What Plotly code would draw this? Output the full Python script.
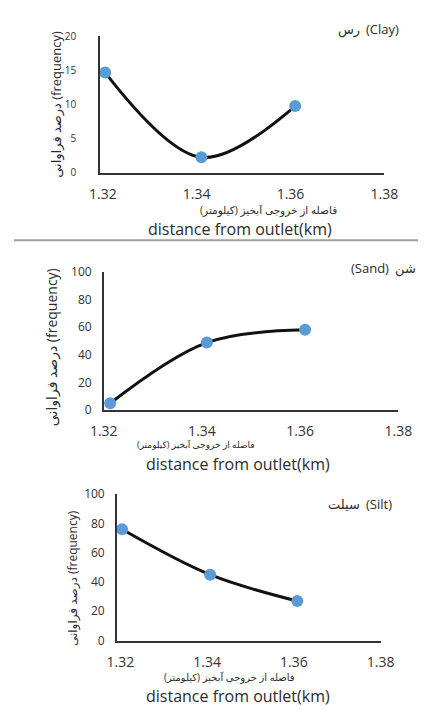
import plotly.graph_objects as go

# ---- data ----
clay_x = [1.3205, 1.341, 1.361]
clay_y = [14.7, 2.3, 9.8]
sand_x = [1.3213, 1.341, 1.361]
sand_y = [5, 48.8, 58]
silt_x = [1.3204, 1.3407, 1.3608]
silt_y = [76, 45, 27]
x_ticks = [1.32, 1.34, 1.36, 1.38]
x_tick_labels = ["1.32", "1.34", "1.36", "1.38"]
clay_ticks = [0, 5, 10, 15, 20]
pct_ticks = [0, 20, 40, 60, 80, 100]
title_en = ["(Clay)", "(Sand)", "(Silt)"]
title_fa = ["رس", "شن", "سیلت"]
ytitle = "\u202aدرصد فراوانی (frequency)\u202c"
xtitle_fa = "فاصله از خروجی آبخیز (کیلومتر)"
xtitle_en = "distance from outlet(km)"

W, H = 432, 713
FONT = "Open Sans, DejaVu Sans, sans-serif"
TXT = "#2b2b2b"
BLUE = "#5B9BD5"

def fx(px):
    return px / W

def fy(py):
    return 1 - py / H

fig = go.Figure()
series = [(clay_x, clay_y), (sand_x, sand_y), (silt_x, silt_y)]
for i, (xs, ys) in enumerate(series):
    sfx = "" if i == 0 else str(i + 1)
    fig.add_trace(go.Scatter(
        x=xs, y=ys, mode="lines+markers",
        line=dict(color="#111111", width=3, shape="spline", smoothing=1.0),
        marker=dict(color=BLUE, size=12, line=dict(width=0)),
        xaxis="x" + sfx, yaxis="y" + sfx, showlegend=False,
        hoverinfo="skip",
    ))

panels = [
    dict(xd=(92, 396), yd=(168, 28), xr=[1.3194, 1.38], yr=[0, 20], yt=clay_ticks, yfs=10, ysd=20, xsd=7),
    dict(xd=(96, 411), yd=(411, 269), xr=[1.32, 1.38], yr=[0, 100], yt=pct_ticks, yfs=12, ysd=8, xsd=7),
    dict(xd=(110, 392), yd=(647, 497), xr=[1.3192, 1.38], yr=[0, 100], yt=pct_ticks, yfs=12, ysd=8, xsd=8),
]

layout = dict(
    width=W, height=H, margin=dict(l=0, r=0, t=0, b=0),
    paper_bgcolor="white", plot_bgcolor="white",
    font=dict(family=FONT, color=TXT),
)
for i, p in enumerate(panels):
    sfx = "" if i == 0 else str(i + 1)
    layout["xaxis" + sfx] = dict(
        domain=[fx(p["xd"][0]), fx(p["xd"][1])], range=p["xr"],
        anchor="y" + sfx, tickvals=x_ticks, ticktext=x_tick_labels,
        showline=True, linecolor="#333", linewidth=1.5,
        showgrid=False, zeroline=False, ticks="",
        tickfont=dict(size=14, color="#333", family=FONT),
        ticklabelstandoff=p["xsd"],
    )
    layout["yaxis" + sfx] = dict(
        domain=[fy(p["yd"][0]), fy(p["yd"][1])], range=p["yr"],
        anchor="x" + sfx, tickvals=p["yt"],
        showline=True, linecolor="#333", linewidth=1.5,
        showgrid=False, zeroline=False, ticks="",
        tickfont=dict(size=p["yfs"], color="#333", family=FONT),
        ticklabelstandoff=p["ysd"],
    )
fig.update_layout(**layout)

ann = []

def text(t, px, py, size, xanchor="center", angle=0):
    ann.append(dict(text=t, x=fx(px), y=fy(py), xref="paper", yref="paper",
                    showarrow=False, textangle=angle, borderpad=0,
                    font=dict(size=size, color=TXT, family=FONT),
                    xanchor=xanchor, yanchor="middle"))

# panel titles: (left word, right word, split x, y) as seen in the reference
title_layout = [
    (title_fa[0], title_en[0], 373, 20),
    (title_en[1], title_fa[1], 404, 265),
    (title_fa[2], title_en[2], 373, 507),
]
for left, right, sx, py in title_layout:
    text(left, sx - 2, py, 13, xanchor="right")
    text(right, sx + 2, py, 13, xanchor="left")

# y-axis titles
for (px, py, fs) in [(45, 98, 13), (40, 346, 14), (62, 583, 12)]:
    text(ytitle, px, py, fs, angle=-90)

# x-axis titles: Persian line + English line
xt_pos = [((272, 206, 10.5), (242, 225)), ((195, 446, 9), (240, 466)), ((230, 684, 10), (239, 704))]
for (fa, en) in xt_pos:
    text(xtitle_fa, fa[0], fa[1], fa[2])
    text(xtitle_en, en[0], en[1], 16)
fig.update_layout(annotations=ann)

fig.add_shape(type="line", xref="paper", yref="paper", x0=0, x1=1,
              y0=fy(237), y1=fy(237), line=dict(color="#a0a0a0", width=2))

fig.write_html("out.html")
